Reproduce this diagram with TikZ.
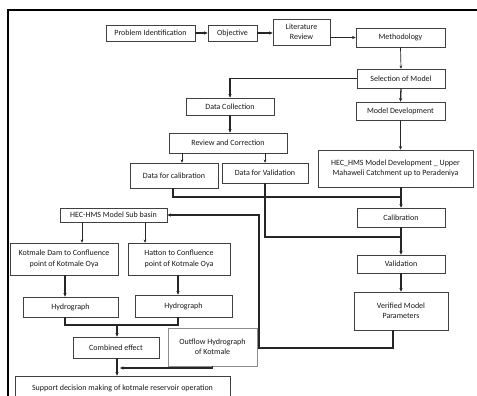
\documentclass[tikz,border=0pt]{standalone}
\usepackage{fontspec}
\setmainfont{Carlito}
\usetikzlibrary{arrows.meta}
\begin{document}
\begin{tikzpicture}[x=1pt,y=-1pt,
  box/.style={draw=black!75, line width=0.75pt, fill=white, inner sep=1pt, align=center,
    font=\fontsize{8}{10.5}\selectfont, text=black!90},
  ln/.style={draw=black!85, line width=1.3pt},
  arr/.style={ln, -{Stealth[length=3.5pt,width=3.2pt]}},
  thinarr/.style={draw=black!85, line width=0.7pt, -{Stealth[length=3pt,width=2.8pt]}}]
\useasboundingbox (0,0) rectangle (477,396);
\fill[white] (0,0) rectangle (477,396);
\draw[line width=1.5pt] (8,400) -- (8,10) -- (478,10);
% nodes
\node[box, minimum width=89pt, minimum height=16pt] (pi) at (150.5,33) {Problem Identification};
\node[box, minimum width=49pt, minimum height=16pt] (obj) at (232.5,33) {Objective};
\node[box, minimum width=57pt, minimum height=26pt] (lit) at (301.5,32) {Literature\\Review};
\node[box, minimum width=89pt, minimum height=19pt] (meth) at (400.5,37.5) {Methodology};
\node[box, minimum width=88pt, minimum height=19pt] (sel) at (401,78.5) {Selection of Model};
\node[box, minimum width=88pt, minimum height=17pt] (dc) at (230,106.5) {Data Collection};
\node[box, minimum width=89pt, minimum height=18pt] (md) at (400.5,111) {Model Development};
\node[box, minimum width=118pt, minimum height=20pt] (rc) at (228,143) {Review and Correction};
\node[box, minimum width=155pt, minimum height=37pt] (hec) at (395.5,168.5) {HEC\_HMS Model Development \_ Upper\\Mahaweli Catchment up to Peradeniya};
\node[box, minimum width=88pt, minimum height=25pt] (dcal) at (174,175.5) {Data for calibration};
\node[box, minimum width=86pt, minimum height=20pt] (dval) at (265,173) {Data for Validation};
\node[box, minimum width=88pt, minimum height=19pt] (cal) at (401,217.5) {Calibration};
\node[box, minimum width=107pt, minimum height=14pt] (sub) at (113.5,215) {HEC-HMS Model Sub basin};
\node[box, minimum width=88pt, minimum height=18pt] (val) at (401,264) {Validation};
\node[box, minimum width=108pt, minimum height=32pt] (kd) at (64,259) {Kotmale Dam to Confluence\\point of Kotmale Oya};
\node[box, minimum width=102pt, minimum height=32pt] (hat) at (179,259) {Hatton to Confluence\\point of Kotmale Oya};
\node[box, minimum width=94pt, minimum height=38pt] (ver) at (401,311) {Verified Model\\Parameters};
\node[box, minimum width=95pt, minimum height=20pt] (hy1) at (70.5,307) {Hydrograph};
\node[box, minimum width=97pt, minimum height=22pt] (hy2) at (183.5,306) {Hydrograph};
\node[box, minimum width=86pt, minimum height=21pt] (comb) at (116,347.5) {Combined effect};
\node[box, draw=black!45, minimum width=89pt, minimum height=38pt] (out) at (212.5,347) {Outflow Hydrograph\\of Kotmale};
\node[box, minimum width=215pt, minimum height=24pt] (sup) at (122.5,388) {Support decision making of kotmale reservoir operation};
% junction coordinates
\coordinate (j1) at (401,197);
\coordinate (j2) at (401,237);
\coordinate (j3) at (259,348);
\coordinate (j4) at (117,325);
\coordinate (j5) at (117,368);
% connectors
\draw[arr] (pi.east) -- (obj.west);
\draw[arr] (obj.east) -- (obj.east -| lit.west);
\draw[arr] (meth.west -| lit.east) -- (meth.west);
\draw[thinarr] (meth.south) -- (sel.north);
\draw[arr] (sel.west) -- (sel.west -| dc.north) -- (dc.north);
\draw[arr] (sel.south) -- (md.north);
\draw[arr] (dc.south) -- (dc.south |- rc.north);
\draw[arr] (md.south) -- (md.south |- hec.north);
\draw[thinarr] (rc.south -| 182,0) -- (dcal.north -| 182,0);
\draw[thinarr] (rc.south -| dval.north) -- (dval.north);
\draw[ln] (dcal.south -| 173,0) |- (j1);
\draw[arr] (hec.south -| cal.north) -- (cal.north);
\draw[ln] (dval.south) |- (j2);
\draw[arr] (cal.south) -- (val.north);
\draw[arr] (val.south) -- (ver.north);
\draw[arr] (ver.south -| 393,0) |- (j3) |- (sub.east);
\draw[thinarr] (sub.south -| 82,0) -- (kd.north -| 82,0);
\draw[thinarr] (sub.south -| 145,0) -- (hat.north -| 145,0);
\draw[arr] (kd.south -| 65,0) -- (hy1.north -| 65,0);
\draw[arr] (hat.south -| 178,0) -- (hy2.north -| 178,0);
\draw[ln] (hy1.south -| 65,0) |- (j4) -| (hy2.south -| 178,0);
\draw[arr] (j4) -- (comb.north -| j4);
\draw[arr] (comb.south -| j4) -- (sup.north -| j4);
\draw[arr] (out.south) |- ([xshift=3pt]j5);
\end{tikzpicture}
\end{document}
